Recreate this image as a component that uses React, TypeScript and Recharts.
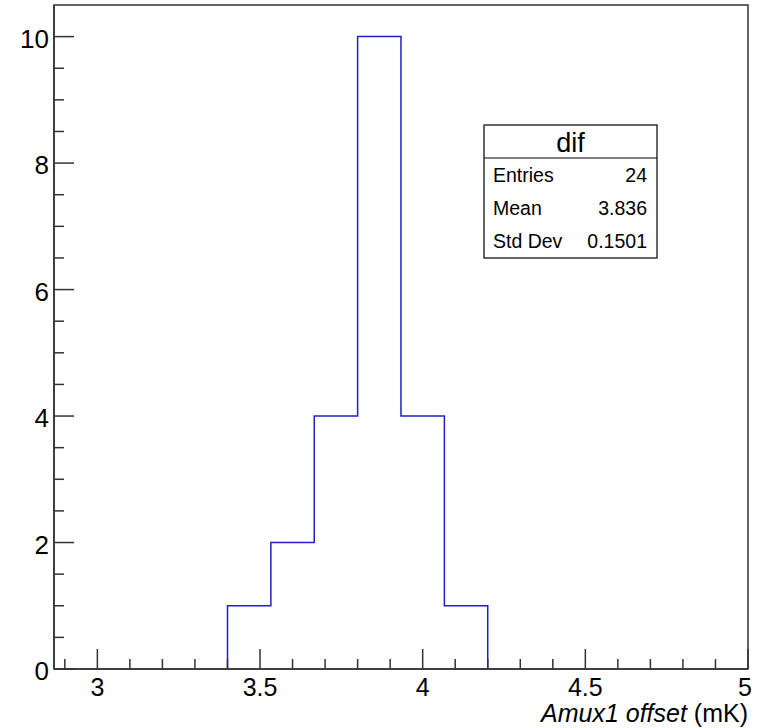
import React from "react";
import {
  ComposedChart,
  Line,
  XAxis,
  YAxis,
  ReferenceArea,
  Customized,
} from "recharts";

// ---- data ----
const binEdges = [3.4, 3.5333, 3.6667, 3.8, 3.9333, 4.0667, 4.2];
const binCounts = [1, 2, 4, 10, 4, 1];
const xDomain = [2.8667, 5];
const yDomain = [0, 10.5];
const xTicks = [
  2.9, 3, 3.1, 3.2, 3.3, 3.4, 3.5, 3.6, 3.7, 3.8, 3.9, 4, 4.1, 4.2, 4.3, 4.4,
  4.5, 4.6, 4.7, 4.8, 4.9, 5,
];
const xMajorLabels = ["3", "3.5", "4", "4.5", "5"];
const yTicks = [
  0, 0.5, 1, 1.5, 2, 2.5, 3, 3.5, 4, 4.5, 5, 5.5, 6, 6.5, 7, 7.5, 8, 8.5, 9,
  9.5, 10,
];
const yMajorLabels = ["0", "2", "4", "6", "8", "10"];
const statsTitle = "dif";
const statsNames = ["Entries", "Mean", "Std Dev"];
const statsValues = ["24", "3.836", "0.1501"];
const xTitleItalic = "Amux1 offset";
const xTitleUnit = " (mK)";

// step data built from bins
const stepData = [
  { x: binEdges[0], y: 0 },
  ...binCounts.map((c, i) => ({ x: binEdges[i], y: c })),
  { x: binEdges[binEdges.length - 1], y: 0 },
];

const FONT = "'Liberation Sans', Arial, Helvetica, sans-serif";
const AXIS_COLOR = "#333";
const HIST_COLOR = "#1f1fd0";

const fmt = (v: number) => String(Math.round(v * 100) / 100);

const XTick = (props: any) => {
  const { x, y, payload } = props;
  const label = fmt(payload.value);
  const major = xMajorLabels.includes(label);
  return (
    <g>
      <line
        x1={x}
        x2={x}
        y1={y}
        y2={y - (major ? 20 : 10)}
        stroke={AXIS_COLOR}
        strokeWidth={1.5}
      />
      {major && (
        <text
          x={label === "5" ? x - 3 : x}
          y={y + 27}
          textAnchor="middle"
          fontSize={25}
          fontFamily={FONT}
          fill="#000"
        >
          {label}
        </text>
      )}
    </g>
  );
};

const YTick = (props: any) => {
  const { x, y, payload } = props;
  const label = fmt(payload.value);
  const major = yMajorLabels.includes(label);
  return (
    <g>
      <line
        x1={x}
        x2={x + (major ? 20 : 10)}
        y1={y}
        y2={y}
        stroke={AXIS_COLOR}
        strokeWidth={1.5}
      />
      {major && (
        <text
          x={x - 5}
          y={y + 11}
          textAnchor="end"
          fontSize={26}
          fontFamily={FONT}
          fill="#000"
        >
          {label}
        </text>
      )}
    </g>
  );
};

const Overlay = () => {
  const bx = 484;
  const by = 125;
  const bw = 173;
  const bh = 133;
  const rowY = [182, 215, 248];
  return (
    <g fontFamily={FONT}>
      <rect
        x={bx}
        y={by}
        width={bw}
        height={bh}
        fill="#fff"
        stroke="#000"
        strokeWidth={1.2}
      />
      <line x1={bx} x2={bx + bw} y1={158} y2={158} stroke="#000" strokeWidth={1.2} />
      <text x={bx + bw / 2} y={152} textAnchor="middle" fontSize={27} fill="#000">
        {statsTitle}
      </text>
      {statsNames.map((n, i) => (
        <g key={n}>
          <text x={493} y={rowY[i]} fontSize={19.5} fill="#000">
            {n}
          </text>
          <text x={647} y={rowY[i]} fontSize={19.5} textAnchor="end" fill="#000">
            {statsValues[i]}
          </text>
        </g>
      ))}
      <text x={748} y={722} textAnchor="end" fontSize={25} fill="#000">
        <tspan fontStyle="italic">{xTitleItalic}</tspan>
        <tspan>{xTitleUnit}</tspan>
      </text>
    </g>
  );
};

export default function App() {
  return (
    <div style={{ position: "absolute", left: 0, top: 0, width: 768, height: 728, background: "#fff" }}>
      <ComposedChart
        width={768}
        height={728}
        data={stepData}
        margin={{ top: 5, right: 20, bottom: 0, left: 0 }}
      >
        <XAxis
          dataKey="x"
          type="number"
          domain={xDomain}
          ticks={xTicks}
          allowDataOverflow
          height={59}
          tickSize={0}
          tickMargin={0}
          tickLine={false}
          axisLine={{ stroke: AXIS_COLOR, strokeWidth: 1.5 }}
          tick={<XTick />}
          interval={0}
        />
        <YAxis
          type="number"
          domain={yDomain}
          ticks={yTicks}
          allowDataOverflow
          width={54}
          tickSize={0}
          tickMargin={0}
          tickLine={false}
          axisLine={{ stroke: AXIS_COLOR, strokeWidth: 1.5 }}
          tick={<YTick />}
          interval={0}
        />
        <ReferenceArea
          x1={xDomain[0]}
          x2={xDomain[1]}
          y1={yDomain[0]}
          y2={yDomain[1]}
          fill="none"
          stroke={AXIS_COLOR}
          strokeWidth={1.5}
          fillOpacity={0}
        />
        <Line
          dataKey="y"
          type="stepAfter"
          stroke={HIST_COLOR}
          strokeWidth={1.5}
          dot={false}
          activeDot={false}
          isAnimationActive={false}
        />
        <Customized component={<Overlay />} />
      </ComposedChart>
    </div>
  );
}
